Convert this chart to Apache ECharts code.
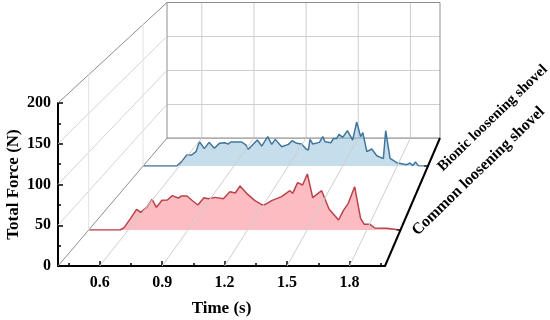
<!DOCTYPE html>
<html><head><meta charset="utf-8">
<style>html,body{margin:0;padding:0;background:#fff}#c{width:550px;height:320px}</style>
<script src="https://cdn.jsdelivr.net/npm/echarts@6/dist/echarts.min.js"></script>
</head><body><div id="c"></div>
<script>
var commonTime=[.403,.5575,.578,.611,.641,.662,.692,.719,.741,.769,.796,.821,.851,.868,.895,.918,.950,.980,1.002,1.036,1.078,1.111,1.138,1.162,1.195,1.237,1.271,1.288,1.321,1.371,1.413,1.427,1.452,1.477,1.501,1.528,1.573,1.583,1.610,1.658,1.682,1.707,1.739,1.769,1.788,1.816,1.841,1.900,1.967];
var commonForce=[0,0,3,15,26.6,22.7,29.2,39.5,29.2,38.2,38.6,44.2,41.2,43.8,43.8,38.6,32.2,41.6,40.3,42,40.3,49.3,47.6,56.6,47.2,37.8,32.6,32.6,37.8,42.9,50.6,47.2,60.9,57.9,72.1,41.6,50.6,51.5,27,12.9,24.9,34.3,55.8,15,7.3,7.3,2.6,2.1,0];
var bionicTime=[.402,.586,.613,.641,.668,.692,.711,.738,.764,.793,.821,.848,.870,.883,.944,.968,.980,1.030,1.054,1.087,1.109,1.129,1.164,1.201,1.210,1.221,1.247,1.274,1.298,1.311,1.320,1.335,1.372,1.390,1.403,1.436,1.449,1.467,1.480,1.500,1.526,1.555,1.577,1.599,1.611,1.633,1.660,1.688,1.724,1.737,1.743,1.761,1.798,1.853,1.871,1.886,1.901,1.917,1.965];
var bionicForce=[0,0,6.1,15.5,15.5,20.2,34.2,24.4,33.3,24.9,31.9,32.8,31,33.8,33.8,29.5,23.5,36.6,28.1,41.3,30.5,37.5,27.2,30.5,29.5,35.6,31.9,31,23.9,22.5,37.5,31,33.3,41.3,34.2,32.8,38.9,38.9,44.6,40.3,49.7,36.6,61.9,41.3,46.9,20.2,23.9,14.5,10.3,49.7,49.7,10.8,4.7,1.9,4.2,.5,5.6,.5,0];
var timeMajor=[0.6,0.9,1.2,1.5,1.8];
var timeMinor=[0.45,0.75,1.05,1.35,1.65,1.95];
var forceMajor=[0,50,100,150,200];
var seriesNames=['Common loosening shovel','Bionic loosening shovel'];
var X0=0.4,X1=1.97;

var FONT='"Liberation Serif","Times New Roman",serif';
var chart=echarts.init(document.getElementById('c'),null,{renderer:'canvas'});
var grids=[
 {left:58,top:103,width:327,height:163,outerBoundsMode:'none'},
 {left:88.7,top:74.6,width:311.8,height:155.4,outerBoundsMode:'none'},
 {left:143,top:24,width:285,height:142,outerBoundsMode:'none'},
 {left:167,top:2.5,width:273,height:135.5,outerBoundsMode:'none'}
];
function hiddenX(i){return {type:'value',gridIndex:i,min:X0,max:X1,show:false};}
function hiddenY(i){return {type:'value',gridIndex:i,min:0,max:200,show:false};}

var W='#d4d4d4',E='#8e8e8e';
var guides=[];
timeMajor.forEach(function(t){guides.push([0,t,0,3,t,0,'#cfcfcf',1]);});
forceMajor.forEach(function(f){guides.push([0,X0,f,3,X0,f,(f===0||f===200)?E:W,1]);});
guides.push([1,X0,0,1,X0,200,'#e2e2e2',1]);
guides.push([2,X0,0,2,X0,200,'#e2e2e2',1]);
guides.push([0,X1,0,3,X1,0,'#000',2]);

function px(g,x,y){return chart.convertToPixel({gridIndex:g},[x,y]);}
function renderGuide(params){
  var d=guides[params.dataIndex];
  var a=px(d[0],d[1],d[2]),b=px(d[3],d[4],d[5]);
  return {type:'line',shape:{x1:a[0],y1:a[1],x2:b[0],y2:b[1]},style:{stroke:d[6],lineWidth:d[7]},silent:true};
}
function renderName(params){
  var i=params.dataIndex, p=px(i+1,X1,0);
  return {type:'group',children:[
    {type:'line',shape:{x1:p[0]-4,y1:p[1],x2:p[0],y2:p[1]},style:{stroke:'#000',lineWidth:1}},
    {type:'text',x:p[0]+(i===0?14:12),y:p[1]+(i===0?3:3),rotation:44*Math.PI/180,
     style:{text:seriesNames[i],font:'bold '+(i===0?16:14.8)+'px '+FONT,fill:'#000',align:'left',verticalAlign:'middle'}}
  ]};
}
function renderWall(){
  var kids=timeMajor.map(function(t){var a=px(3,t,0),b=px(3,t,200);
    return {type:'line',shape:{x1:a[0],y1:a[1],x2:b[0],y2:b[1]},style:{stroke:'#cfcfcf',lineWidth:1}};});
  var c=[[X0,0],[X0,200],[X1,200],[X1,0],[X0,0]].map(function(q){return px(3,q[0],q[1]);});
  kids.push({type:'polyline',shape:{points:c},style:{stroke:'#8e8e8e',lineWidth:1,fill:null}});
  return {type:'group',children:kids};
}
function zip(a,b){return a.map(function(v,i){return [v,b[i]];});}

chart.setOption({
 animation:false,
 backgroundColor:'#fff',
 grid:grids,
 xAxis:[
  {type:'value',gridIndex:0,min:X0,max:X1,position:'bottom',splitLine:{show:false},
   axisLine:{show:true,onZero:false,lineStyle:{color:'#000',width:2}},
   axisTick:{show:true,inside:true,length:5,customValues:timeMajor,lineStyle:{color:'#000',width:1.5}},
   axisLabel:{show:true,customValues:timeMajor,margin:9,color:'#000',fontFamily:FONT,fontWeight:'bold',fontSize:16,
     formatter:function(v){return v.toFixed(1);}},
   name:'Time (s)',nameLocation:'middle',nameGap:34,nameMoveOverlap:false,
   nameTextStyle:{color:'#000',fontFamily:FONT,fontWeight:'bold',fontSize:17}},
  {type:'value',gridIndex:0,min:X0,max:X1,position:'bottom',splitLine:{show:false},
   axisLine:{show:false},axisLabel:{show:false},
   axisTick:{show:true,inside:true,length:3,customValues:timeMinor,lineStyle:{color:'#000',width:1.5}}},
  hiddenX(1),hiddenX(2),
  {type:'value',gridIndex:3,min:X0,max:X1,axisLine:{show:false},axisTick:{show:false},axisLabel:{show:false},
   splitLine:{show:false}}
 ],
 yAxis:[
  {type:'value',gridIndex:0,min:0,max:200,interval:50,position:'left',splitLine:{show:false},
   axisLine:{show:true,onZero:false,lineStyle:{color:'#000',width:2}},
   axisTick:{show:true,inside:true,length:5,lineStyle:{color:'#000',width:1.5}},
   minorTick:{show:true,splitNumber:2,length:3,lineStyle:{color:'#000',width:1.5}},
   axisLabel:{margin:7,color:'#000',fontFamily:FONT,fontWeight:'bold',fontSize:16},
   name:'Total Force (N)',nameLocation:'middle',nameGap:36,nameMoveOverlap:false,
   nameTextStyle:{color:'#000',fontFamily:FONT,fontWeight:'bold',fontSize:17}},
  hiddenY(1),hiddenY(2),
  {type:'value',gridIndex:3,min:0,max:200,interval:50,axisLine:{show:false},axisTick:{show:false},axisLabel:{show:false},
   splitLine:{show:true,lineStyle:{color:'#cfcfcf',width:1}}}
 ],
 series:[
  {name:'backWall',type:'custom',coordinateSystem:'none',z:2,silent:true,renderItem:renderWall,data:[[0]]},
  {name:'guides',type:'custom',coordinateSystem:'none',z:4,silent:true,renderItem:renderGuide,
   data:guides.map(function(g,i){return [i];})},
  {name:seriesNames[1],type:'line',xAxisIndex:3,yAxisIndex:2,data:zip(bionicTime,bionicForce),z:3,
   showSymbol:false,lineStyle:{color:'#41769c',width:1.5},areaStyle:{color:'#8dbcd9',opacity:0.5}},
  {name:seriesNames[0],type:'line',xAxisIndex:2,yAxisIndex:1,data:zip(commonTime,commonForce),z:3,
   showSymbol:false,lineStyle:{color:'#b8434b',width:1.5},areaStyle:{color:'#fc8c94',opacity:0.58}},
  {name:'names',type:'custom',coordinateSystem:'none',z:5,silent:true,renderItem:renderName,
   data:seriesNames.map(function(n,i){return [i];})}
 ]
});
</script></body></html>
